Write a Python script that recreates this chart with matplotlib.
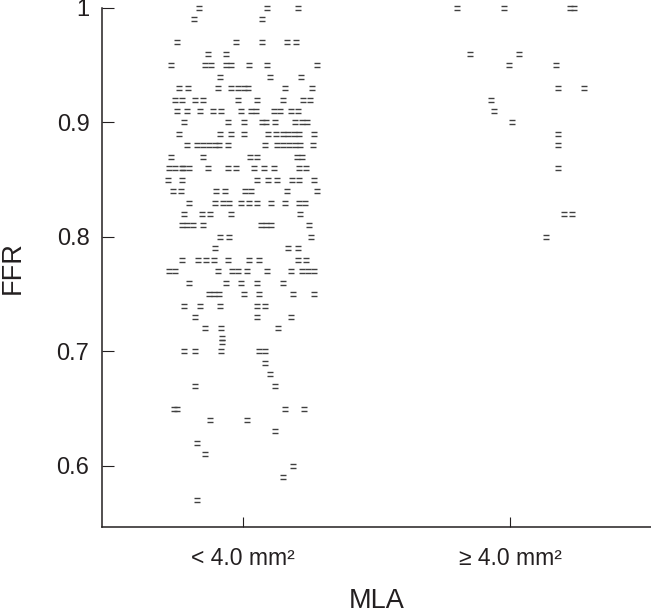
import matplotlib.pyplot as plt
import numpy as np
from matplotlib.path import Path

plt.rcParams['font.family'] = ['Liberation Sans', 'DejaVu Sans']

groups = ['< 4.0 mm²', '≥ 4.0 mm²']
yticks = [0.6, 0.7, 0.8, 0.9, 1.0]
ytick_labels = ['0.6', '0.7', '0.8', '0.9', '1']

# MLA < 4.0 mm2: FFR rows and the horizontal jitter of each point on that row
lt_ffr = [1.00, 0.99, 0.97, 0.96, 0.95, 0.94, 0.93, 0.92, 0.91, 0.90,
          0.89, 0.88, 0.87, 0.86, 0.85, 0.84, 0.83, 0.82, 0.81, 0.80,
          0.79, 0.78, 0.77, 0.76, 0.75, 0.74, 0.73, 0.72, 0.712, 0.708,
          0.70, 0.69, 0.68, 0.67, 0.65, 0.64, 0.63, 0.62, 0.61, 0.60,
          0.59, 0.57]
lt_jit = [
    [-0.165, 0.090, 0.206],
    [-0.184, 0.071],
    [-0.247, -0.026, 0.071, 0.165, 0.199],
    [-0.131, -0.064],
    [-0.270, -0.142, -0.120, -0.064, -0.045, 0.022, 0.090, 0.277],
    [-0.086, 0.101, 0.217],
    [-0.240, -0.206, -0.094, -0.045, -0.019, 0.004, 0.019, 0.157, 0.258],
    [-0.255, -0.228, -0.180, -0.150, -0.019, 0.052, 0.150, 0.225, 0.251],
    [-0.247, -0.210, -0.161, -0.112, -0.082, -0.007, 0.030, 0.049, 0.116, 0.139, 0.180, 0.206],
    [-0.221, -0.056, 0.004, 0.071, 0.086, 0.120, 0.195, 0.221, 0.240],
    [-0.240, -0.086, -0.045, 0.004, 0.094, 0.124, 0.150, 0.169, 0.191, 0.210, 0.266],
    [-0.210, -0.172, -0.150, -0.127, -0.105, -0.090, -0.056, 0.082, 0.127, 0.150, 0.172, 0.195, 0.213, 0.262],
    [-0.270, -0.150, 0.026, 0.052, 0.202, 0.221],
    [-0.277, -0.255, -0.228, -0.226, -0.202, -0.131, -0.056, -0.026, 0.041, 0.079, 0.116, 0.210, 0.236],
    [-0.281, -0.228, 0.052, 0.094, 0.127, 0.184, 0.210, 0.266],
    [-0.262, -0.232, -0.101, -0.067, 0.007, 0.030, 0.165, 0.277],
    [-0.202, -0.105, -0.075, -0.052, -0.007, 0.022, 0.052, 0.105, 0.157, 0.210, 0.232],
    [-0.221, -0.154, -0.124, -0.045, 0.213],
    [-0.228, -0.210, -0.187, -0.150, 0.067, 0.086, 0.105, 0.247],
    [-0.086, -0.052, 0.255],
    [-0.105, 0.169, 0.206],
    [-0.228, -0.169, -0.139, -0.109, -0.056, 0.022, 0.060, 0.206, 0.236],
    [-0.277, -0.255, -0.094, -0.041, -0.019, 0.015, 0.090, 0.180, 0.221, 0.243, 0.266],
    [-0.202, -0.064, -0.007, 0.052, 0.150],
    [-0.127, -0.109, -0.090, 0.004, 0.060, 0.187, 0.266],
    [-0.221, -0.161, -0.086, 0.052, 0.082],
    [-0.180, 0.052, 0.180],
    [-0.142, -0.082, 0.131],
    [-0.079],
    [-0.079],
    [-0.221, -0.180, -0.082, 0.060, 0.082],
    [0.082],
    [0.101],
    [-0.180, 0.120],
    [-0.258, -0.247, 0.157, 0.228],
    [-0.124, 0.015],
    [0.120],
    [-0.172],
    [-0.142],
    [0.187],
    [0.150],
    [-0.172],
]

# MLA >= 4.0 mm2
ge_ffr = [1.00, 0.96, 0.95, 0.93, 0.92, 0.91, 0.90, 0.89, 0.88, 0.86, 0.82, 0.80]
ge_jit = [
    [-0.199, -0.022, 0.225, 0.240],
    [-0.150, 0.034],
    [-0.004, 0.172],
    [0.180, 0.277],
    [-0.071],
    [-0.060],
    [0.007],
    [0.180],
    [0.180],
    [0.180],
    [0.202, 0.232],
    [0.135],
]

# "=" shaped marker like the original figure
dash = Path([(-1, 0.45), (1, 0.45), (-1, -0.45), (1, -0.45)],
            [Path.MOVETO, Path.LINETO, Path.MOVETO, Path.LINETO])

fig = plt.figure(figsize=(6.51, 6.14), dpi=100)
ax = fig.add_axes([102 / 651, 0.1425, 1 - 102 / 651, 0.8445])

for pos, ffr, jit in [(1, lt_ffr, lt_jit), (2, ge_ffr, ge_jit)]:
    for v, offs in zip(ffr, jit):
        xs = pos + np.array(offs)
        ax.plot(xs, np.full(len(xs), v), linestyle='none', marker=dash,
                markersize=5, markeredgewidth=1.0, color='#404040',
                clip_on=False)

ax.set_xlim(0.472, 2.528)
ax.set_ylim(0.547, 1.0)
ax.set_xticks([1, 2])
ax.set_xticklabels(groups)
ax.set_yticks(yticks)
ax.set_yticklabels(ytick_labels)

ax.spines['top'].set_visible(False)
ax.spines['right'].set_visible(False)
for s in ['left', 'bottom']:
    ax.spines[s].set_linewidth(1.1)
    ax.spines[s].set_color('#231f20')

ax.tick_params(axis='y', direction='in', length=8.6, width=0.8, pad=9,
               labelsize=17, color='#231f20', labelcolor='#231f20')
ax.tick_params(axis='x', direction='in', length=7.2, width=0.8, pad=15,
               labelsize=16.5, color='#231f20', labelcolor='#231f20')

ax.set_xlabel('MLA', fontsize=19.5, labelpad=13, color='#231f20')
ax.set_ylabel('FFR', fontsize=19.5, labelpad=22, color='#231f20')

fig.savefig('out.png', dpi=100)
